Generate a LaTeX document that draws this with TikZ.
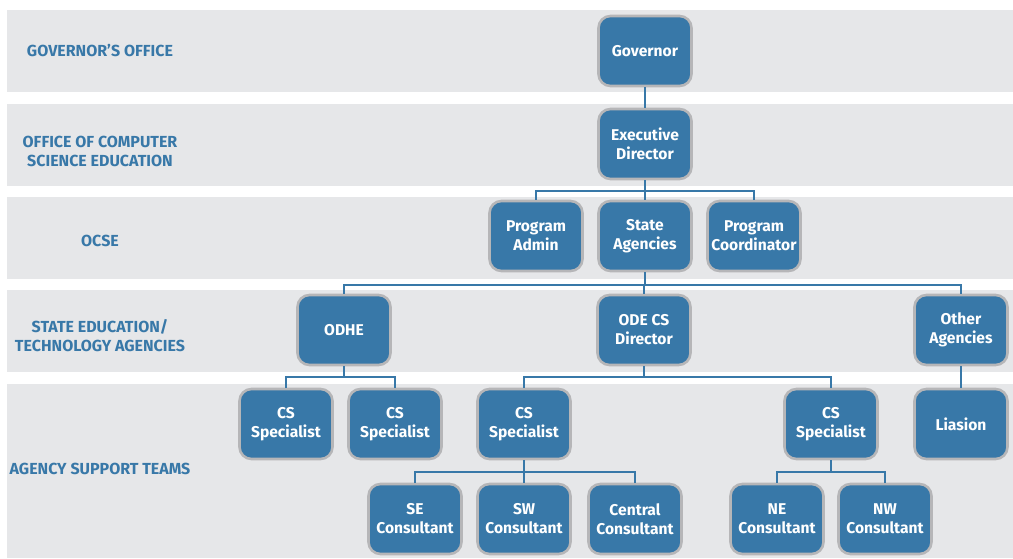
\documentclass[tikz,border=0pt]{standalone}
\usepackage{fontspec}
\setmainfont{Fira Sans}
\definecolor{boxblue}{RGB}{56,120,168}
\definecolor{bandgray}{RGB}{230,231,233}
\definecolor{rimgray}{RGB}{182,182,184}
\begin{document}
\begin{tikzpicture}[x=1pt,y=-1pt,
  orgbox/.style={draw=rimgray,line width=2.6pt,fill=boxblue,rounded corners=12pt,
    minimum width=93pt,minimum height=70pt,inner sep=0pt,align=center,
    text=white,font=\bfseries\fontsize{15.6}{19}\selectfont},
  bandlabel/.style={text=boxblue,align=center,font=\bfseries\fontsize{16}{19}\selectfont},
  link/.style={draw=boxblue,line width=2.8pt}]
\useasboundingbox (0,0) rectangle (1013,558);
% bands
\fill[bandgray] (7,10) rectangle (1013,92);
\fill[bandgray] (7,104) rectangle (1013,186);
\fill[bandgray] (7,197) rectangle (1013,279);
\fill[bandgray] (7,290) rectangle (1013,372);
\fill[bandgray] (7,384) rectangle (1013,558);
% band labels
\node[bandlabel] (l1) at (100,51) {GOVERNOR’S OFFICE};
\node[bandlabel] (l2) at (100,151) {OFFICE OF COMPUTER\\SCIENCE EDUCATION};
\node[bandlabel] (l3) at (100,241) {OCSE};
\node[bandlabel] (l4) at (100,336) {STATE EDUCATION/\\TECHNOLOGY AGENCIES};
\node[bandlabel] (l5) at (100,469) {AGENCY SUPPORT TEAMS};
% boxes
\path
  (645,51) node[orgbox] (gov) {Governor}
  (645,144) node[orgbox] (ed) {Executive\\Director}
  (536,236) node[orgbox] (pa) {Program\\Admin}
  (645,236) node[orgbox] (sa) {State\\Agencies}
  (754,236) node[orgbox] (pc) {Program\\Coordinator}
  (344,330) node[orgbox] (odhe) {ODHE}
  (644,330) node[orgbox] (ode) {ODE CS\\Director}
  (961,330) node[orgbox] (oth) {Other\\Agencies}
  (286,424) node[orgbox] (cs1) {CS\\Specialist}
  (395,424) node[orgbox] (cs2) {CS\\Specialist}
  (524,424) node[orgbox] (cs3) {CS\\Specialist}
  (831,424) node[orgbox] (cs4) {CS\\Specialist}
  (961,424) node[orgbox] (lia) {Liasion}
  (415,519) node[orgbox] (se) {SE\\Consultant}
  (524,519) node[orgbox] (sw) {SW\\Consultant}
  (635,519) node[orgbox] (cen) {Central\\Consultant}
  (777,519) node[orgbox] (ne) {NE\\Consultant}
  (885,519) node[orgbox] (nw) {NW\\Consultant};
% connectors
\draw[link] (gov.south) -- (ed.north);
\draw[link] (ed.south) -- (ed.south |- 0,191) -| (pa.north);
\draw[link] (ed.south |- 0,191) -| (pc.north);
\draw[link] (ed.south |- 0,191) -- (sa.north);
\draw[link] (sa.south) -- (sa.south |- 0,285) -| (odhe.north);
\draw[link] (sa.south |- 0,285) -| (oth.north);
\draw[link] (sa.south |- 0,285) -| (ode.north);
\draw[link] (odhe.south) -- (odhe.south |- 0,377) -| (cs1.north);
\draw[link] (odhe.south |- 0,377) -| (cs2.north);
\draw[link] (ode.south) -- (ode.south |- 0,377) -| (cs3.north);
\draw[link] (ode.south |- 0,377) -| (cs4.north);
\draw[link] (oth.south) -- (lia.north);
\draw[link] (cs3.south) -- (cs3.south |- 0,472) -| (se.north);
\draw[link] (cs3.south |- 0,472) -| (cen.north);
\draw[link] (cs3.south |- 0,472) -- (sw.north);
\draw[link] (cs4.south) -- (cs4.south |- 0,472) -| (ne.north);
\draw[link] (cs4.south |- 0,472) -| (nw.north);
\end{tikzpicture}
\end{document}
